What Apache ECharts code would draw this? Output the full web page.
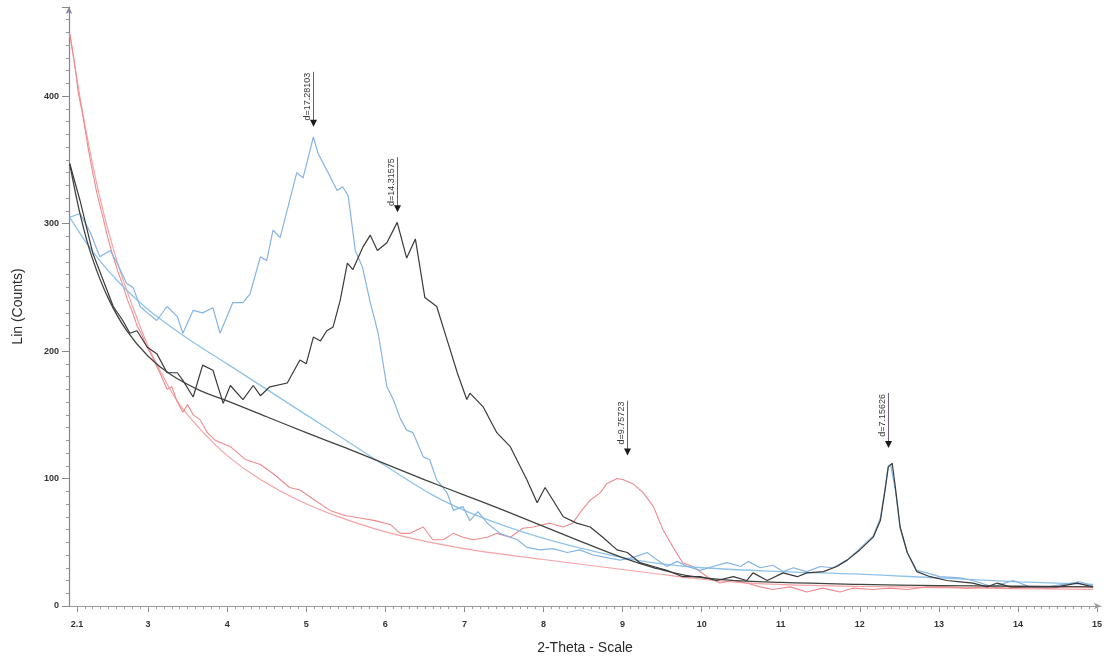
<!DOCTYPE html>
<html><head><meta charset="utf-8">
<script src="https://cdn.jsdelivr.net/npm/echarts@6/dist/echarts.min.js"></script>
<style>html,body{margin:0;padding:0;background:#fff}#c{width:1109px;height:662px}</style>
</head><body><div id="c"></div>
<script>
const xTickLabels = [2.1, 3, 4, 5, 6, 7, 8, 9, 10, 11, 12, 13, 14, 15];
const yTickLabels = [0, 100, 200, 300, 400];

const blackScan = [[2.01,347],[2.14,318],[2.30,277],[2.43,256],[2.56,235],[2.68,224],[2.77,214],[2.86,216],[2.99,203],[3.11,198],[3.24,183],[3.37,183],[3.44,177],[3.57,164],[3.69,189],[3.82,185],[3.95,159],[4.04,173],[4.20,162],[4.33,173],[4.42,165],[4.54,172],[4.76,175],[4.92,193],[5.00,190],[5.09,211],[5.18,208],[5.26,216],[5.34,219],[5.43,240],[5.52,269],[5.59,264],[5.72,282],[5.81,291],[5.90,279],[6.02,285],[6.15,301],[6.27,273],[6.38,288],[6.50,242],[6.65,235],[6.78,209],[6.91,183],[7.03,162],[7.07,167],[7.24,156],[7.41,136],[7.58,125],[7.79,99],[7.92,81],[8.02,93],[8.25,70],[8.42,65],[8.59,62],[8.75,54],[8.93,44],[9.06,42],[9.22,34],[9.39,31],[9.56,28],[9.76,23],[9.98,23],[10.19,20],[10.40,23],[10.57,20],[10.65,26],[10.83,20],[11.03,26],[11.21,23],[11.33,26],[11.54,27],[11.71,31],[11.84,36],[12.00,44],[12.17,54],[12.26,67],[12.32,91],[12.36,109],[12.41,112],[12.45,93],[12.51,62],[12.60,42],[12.72,27],[12.89,23],[13.10,20],[13.27,19],[13.43,18],[13.61,15],[13.74,18],[13.90,15],[14.11,15],[14.28,15],[14.49,15],[14.75,18],[14.95,15]];
const blackBackground = [[2.01,347],[2.15,305],[2.30,272],[2.50,241],[2.73,216],[3.00,196],[3.30,181],[3.66,169],[4.00,161],[4.50,148.5],[5.00,136],[5.50,124],[6.00,111.5],[6.50,99],[7.00,87],[7.50,75],[8.00,62.5],[8.50,50],[9.00,38],[9.40,30],[9.80,24],[10.30,20.5],[11.00,18.5],[12.00,17],[13.00,16],[14.00,15.5],[14.95,15]];

const blueScan = [[2.01,305],[2.14,308],[2.27,293],[2.39,274],[2.52,279],[2.61,269],[2.73,253],[2.81,250],[2.90,235],[2.99,230],[3.11,224],[3.24,235],[3.37,227],[3.44,214],[3.57,232],[3.69,230],[3.82,234],[3.91,214],[4.07,238],[4.20,238],[4.29,245],[4.42,274],[4.50,271],[4.58,295],[4.67,289],[4.79,318],[4.88,340],[4.96,336],[5.09,368],[5.15,355],[5.26,342],[5.39,326],[5.46,329],[5.53,322],[5.62,279],[5.71,266],[5.81,238],[5.91,214],[6.02,172],[6.10,162],[6.19,147],[6.27,138],[6.35,136],[6.48,117],[6.56,115],[6.65,99],[6.78,89],[6.86,75],[6.98,78],[7.07,67],[7.17,74],[7.29,65],[7.45,57],[7.67,52],[7.79,46],[7.96,44],[8.12,45],[8.30,42],[8.46,44],[8.63,40],[8.80,38],[8.97,36],[9.13,38],[9.31,42],[9.44,36],[9.56,31],[9.69,35],[9.82,31],[9.98,28],[10.14,31],[10.32,34],[10.49,31],[10.59,35],[10.74,30],[10.90,32],[11.03,27],[11.16,30],[11.33,27],[11.50,31],[11.66,30],[11.84,36],[12.00,45],[12.17,55],[12.26,69],[12.32,93],[12.36,110],[12.39,111],[12.45,91],[12.51,61],[12.60,42],[12.72,28],[12.85,26],[13.01,23],[13.27,22],[13.43,20],[13.68,15],[13.94,20],[14.15,15],[14.37,15],[14.78,19],[14.95,16]];
const blueBackground = [[2.01,305],[2.30,278],[2.60,256],[2.90,238],[3.20,223],[3.57,207],[4.00,190],[4.50,170],[5.00,150],[5.50,130],[6.00,110],[6.60,87],[7.00,75],[7.50,63],[8.00,53],[8.50,45],[9.00,38],[9.50,33],[10.00,30],[11.00,27],[12.00,25],[13.00,22],[14.00,19],[14.95,17]];

const redScan = [[2.01,449],[2.06,430],[2.12,402],[2.18,383],[2.24,360],[2.30,340],[2.36,322],[2.43,305],[2.49,289],[2.55,276],[2.62,262],[2.68,252],[2.74,240],[2.80,231],[2.86,220],[2.92,213],[2.98,204],[3.05,196],[3.11,188],[3.17,180],[3.24,170],[3.30,172],[3.37,160],[3.44,152],[3.50,158],[3.57,150],[3.66,146],[3.75,136],[3.85,130],[4.04,125],[4.23,115],[4.42,111],[4.60,103],[4.79,93],[4.92,91],[5.11,83],[5.30,75],[5.49,71],[5.68,69],[5.87,67],[6.06,64],[6.19,57],[6.31,57],[6.48,62],[6.60,52],[6.73,52],[6.86,57],[6.98,54],[7.11,52],[7.29,54],[7.41,57],[7.58,54],[7.74,61],[7.87,62],[8.08,65],[8.25,62],[8.37,65],[8.46,73],[8.59,83],[8.72,89],[8.80,96],[8.93,100],[9.01,99],[9.13,96],[9.26,89],[9.39,78],[9.51,60],[9.64,46],[9.76,34],[9.89,31],[10.07,23],[10.23,18],[10.40,20],[10.57,18],[10.74,15],[10.90,13],[11.12,15],[11.33,11],[11.53,14],[11.75,11],[11.91,14],[12.17,13],[12.38,14],[12.60,13],[12.85,15],[13.10,15],[13.36,14],[13.61,15],[13.86,14],[14.11,15],[14.37,14],[14.62,15],[14.95,15]];
const redBackground = [[2.01,449],[2.20,378],[2.40,318],[2.60,272],[2.80,236],[3.00,204],[3.20,179],[3.40,158],[3.70,136],[4.00,118],[4.40,100],[4.90,83],[5.50,68],[6.20,55],[7.00,45],[7.50,40.5],[8.00,36.5],[8.70,31],[9.40,25.5],[10.00,21],[10.60,18],[11.50,16],[12.50,15],[13.50,14],[14.95,13]];

const peakPositions = [5.09, 6.15, 9.06, 12.36];
const peakArrowTips = [376, 309, 118, 124];
const peakLabels = ['d=17.28103', 'd=14.31575', 'd=9.75723', 'd=7.15626'];

const minorX = [];
for (let i = 21; i <= 150; i++) minorX.push(i / 10);

const chart = echarts.init(document.getElementById('c'));
const FONT = 'Liberation Sans, Arial, sans-serif';

function lineSeries(name, data, color, width, smooth) {
  return {
    name, type: 'line', data, showSymbol: false, symbol: 'none',
    smooth: smooth ? 0.4 : false,
    lineStyle: { color, width }, silent: true, animation: false
  };
}

chart.setOption({
  backgroundColor: '#ffffff',
  animation: false,
  grid: { left: 69, right: 8, top: 7, bottom: 56 },
  xAxis: [{
    type: 'value', min: 2.0, max: 15.05,
    name: '2-Theta - Scale', nameLocation: 'middle', nameGap: 35,
    nameTextStyle: { fontSize: 14, color: '#2a2a2a', fontFamily: FONT },
    axisLine: { show: true, lineStyle: { color: '#9a9a9a', width: 1 }, symbol: ['none', 'arrow'], symbolSize: [5, 7] },
    axisTick: { show: true, customValues: xTickLabels, length: 6, lineStyle: { color: '#888' } },
    axisLabel: { customValues: xTickLabels, fontSize: 9, color: '#333', margin: 14, fontFamily: FONT, fontWeight: 'bold' },
    splitLine: { show: false }
  }, {
    type: 'value', min: 2.0, max: 15.05, position: 'bottom',
    axisLine: { show: false },
    axisTick: { show: true, customValues: minorX, length: 3, lineStyle: { color: '#999' } },
    axisLabel: { show: false },
    splitLine: { show: false }
  }],
  yAxis: {
    type: 'value', min: 0, max: 470, interval: 100,
    name: 'Lin (Counts)', nameLocation: 'middle', nameGap: 44, nameRotate: 90,
    nameTextStyle: { fontSize: 14, color: '#2a2a2a', fontFamily: FONT },
    axisLine: { show: true, lineStyle: { color: '#8b7fa6', width: 1.2 }, symbol: ['none', 'arrow'], symbolSize: [5, 7] },
    axisTick: { show: true, length: 7, lineStyle: { color: '#888' } },
    minorTick: { show: true, splitNumber: 10, length: 3, lineStyle: { color: '#999' } },
    axisLabel: { customValues: yTickLabels, fontSize: 9, color: '#333', margin: 10, fontFamily: FONT, fontWeight: 'bold' },
    splitLine: { show: false }
  },
  series: [
    lineSeries('red background', redBackground, '#f4a3a6', 1.2, true),
    lineSeries('red scan', redScan, '#ee8a8e', 1.1, false),
    lineSeries('blue background', blueBackground, '#8ec3ea', 1.3, true),
    lineSeries('blue scan', blueScan, '#86b4e4', 1.2, false),
    lineSeries('black background', blackBackground, '#3f4640', 1.3, true),
    lineSeries('black scan', blackScan, '#3a3a3a', 1.2, false),
    {
      type: 'custom', silent: true, animation: false, z: 10,
      data: peakPositions.map((x, i) => [x, peakArrowTips[i], i]),
      renderItem: function (params, api) {
        const tip = api.coord([api.value(0), api.value(1)]);
        const label = peakLabels[api.value(2)];
        const stalk = 55;
        const x = Math.round(tip[0]) + 0.5;
        const top = tip[1] - stalk;
        return {
          type: 'group',
          children: [
            { type: 'line', shape: { x1: x, y1: top, x2: x, y2: tip[1] - 5 }, style: { stroke: '#6d5e80', lineWidth: 1 } },
            { type: 'polygon', shape: { points: [[x - 3.5, tip[1] - 7], [x + 3.5, tip[1] - 7], [x, tip[1]]] }, style: { fill: '#1a1a1a' } },
            { type: 'text', x: x - 1.5, y: top + 1, rotation: Math.PI / 2,
              style: { text: label, fill: '#3a3a3a', font: '9px ' + FONT, align: 'right', verticalAlign: 'bottom' } }
          ]
        };
      }
    }
  ]
});
</script>
</body></html>
